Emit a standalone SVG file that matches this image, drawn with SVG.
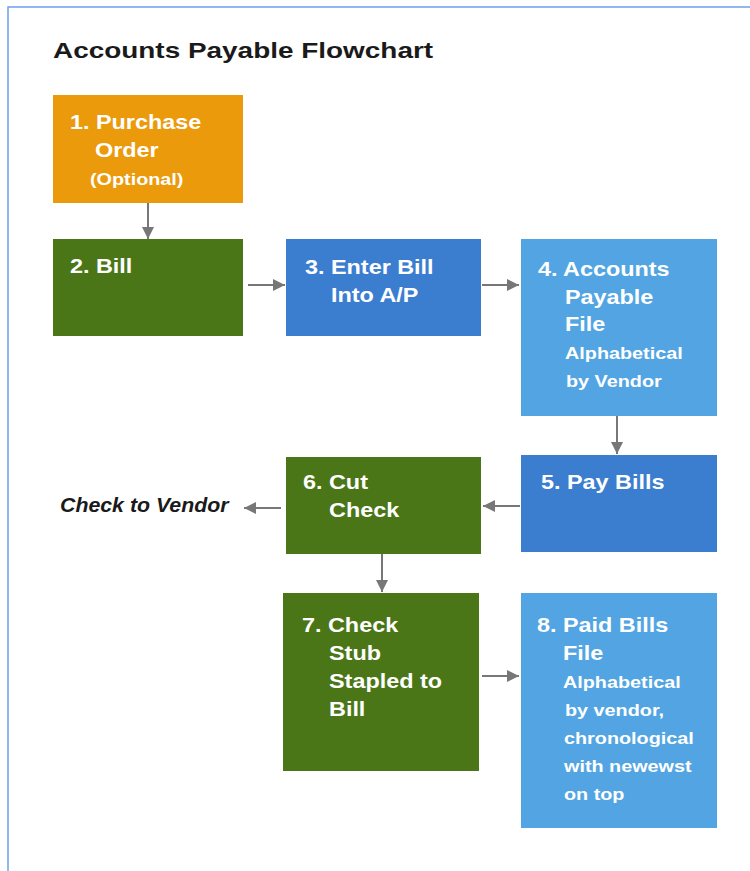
<svg xmlns="http://www.w3.org/2000/svg" width="750" height="871" viewBox="0 0 750 871">
<style>
.t{font-family:"Liberation Sans",Arial,sans-serif;font-weight:bold;fill:#ffffff;font-size:19.5px}
.s{font-size:16.5px}
.title{font-family:"Liberation Sans",Arial,sans-serif;font-weight:bold;fill:#1a1a1a;font-size:22px}
.side{font-family:"Liberation Sans",Arial,sans-serif;font-weight:bold;font-style:italic;fill:#1a1a1a;font-size:20.5px}
.c{stroke:#777777;stroke-width:2;fill:none;marker-end:url(#ah)}
</style>
<defs>
<marker id="ah" viewBox="0 0 12 12" refX="12" refY="6" markerWidth="12" markerHeight="12" markerUnits="userSpaceOnUse" orient="auto">
<path d="M0,0 L12,6 L0,12 z" fill="#777777"/>
</marker>
</defs>
<rect width="750" height="871" fill="#ffffff"/>
<path d="M8,871 V7 H750" fill="none" stroke="#6d9eeb" stroke-width="1.5"/>
<text class="title" transform="scale(1.27 1)" x="41.73" y="58">Accounts Payable Flowchart</text>

<g id="connectors">
<line class="c" x1="148" y1="203" x2="148" y2="239"/>
<line class="c" x1="248" y1="285" x2="285" y2="285"/>
<line class="c" x1="482" y1="285" x2="519" y2="285"/>
<line class="c" x1="617" y1="416" x2="617" y2="454"/>
<line class="c" x1="520" y1="506" x2="483" y2="506"/>
<line class="c" x1="281" y1="508" x2="244" y2="508"/>
<line class="c" x1="382" y1="554" x2="382" y2="592"/>
<line class="c" x1="482" y1="676" x2="519" y2="676"/>
</g>

<g id="n1">
<rect x="53" y="95" width="190" height="108" fill="#eb9a0c"/>
<g transform="scale(1.2 1)">
<text class="t" x="58.33" y="129">1. Purchase</text>
<text class="t" x="79.17" y="157">Order</text>
<text class="t s" x="75" y="185">(Optional)</text>
</g>
</g>

<g id="n2">
<rect x="53" y="239" width="190" height="97" fill="#4a7617"/>
<g transform="scale(1.2 1)">
<text class="t" x="58.33" y="273">2. Bill</text>
</g>
</g>

<g id="n3">
<rect x="286" y="239" width="195" height="97" fill="#3b7ed0"/>
<g transform="scale(1.2 1)">
<text class="t" x="254.17" y="274">3. Enter Bill</text>
<text class="t" x="275.83" y="302">Into A/P</text>
</g>
</g>

<g id="n4">
<rect x="521" y="239" width="196" height="177" fill="#52a5e2"/>
<g transform="scale(1.2 1)">
<text class="t" x="448.33" y="276">4. Accounts</text>
<text class="t" x="470.83" y="304">Payable</text>
<text class="t" x="470.83" y="331">File</text>
<text class="t s" x="470.83" y="359">Alphabetical</text>
<text class="t s" x="471.67" y="387">by Vendor</text>
</g>
</g>

<g id="n5">
<rect x="521" y="455" width="196" height="97" fill="#3b7ed0"/>
<g transform="scale(1.2 1)">
<text class="t" x="450.83" y="489">5. Pay Bills</text>
</g>
</g>

<g id="n6">
<rect x="286" y="457" width="195" height="97" fill="#4a7617"/>
<g transform="scale(1.2 1)">
<text class="t" x="252.5" y="489">6. Cut</text>
<text class="t" x="274.17" y="517">Check</text>
</g>
</g>

<g id="n-vendor">
<text class="side" transform="scale(1.04 1)" x="57.7" y="512">Check to Vendor</text>
</g>

<g id="n7">
<rect x="283" y="593" width="196" height="178" fill="#4a7617"/>
<g transform="scale(1.2 1)">
<text class="t" x="251.67" y="632">7. Check</text>
<text class="t" x="274.17" y="660">Stub</text>
<text class="t" x="274.17" y="688">Stapled to</text>
<text class="t" x="274.17" y="716">Bill</text>
</g>
</g>

<g id="n8">
<rect x="521" y="593" width="196" height="235" fill="#52a5e2"/>
<g transform="scale(1.2 1)">
<text class="t" x="447.5" y="632">8. Paid Bills</text>
<text class="t" x="469.17" y="660">File</text>
<text class="t s" x="469.17" y="688">Alphabetical</text>
<text class="t s" x="470.83" y="716">by vendor,</text>
<text class="t s" x="470" y="744">chronological</text>
<text class="t s" x="470" y="772">with newewst</text>
<text class="t s" x="470" y="800">on top</text>
</g>
</g>
</svg>
